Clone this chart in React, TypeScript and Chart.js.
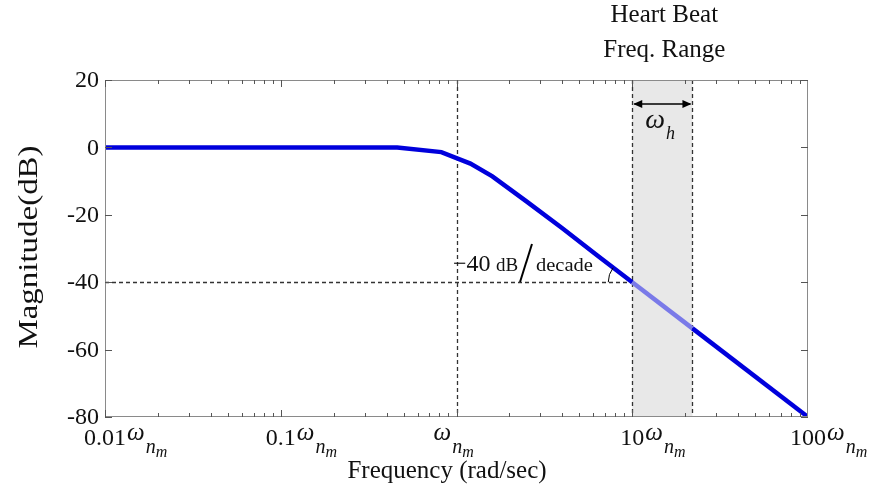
import { useEffect, useRef } from 'react';
import { Chart, registerables } from 'chart.js';

Chart.register(...registerables);

// ---- data ----
const FREQ = [0.01, 0.46, 0.82, 1.2, 1.6, 2.5, 4, 6.3, 10, 22, 100];
const MAG = [0, 0, -1.4, -4.8, -8.6, -16, -24, -32, -40, -53.7, -80];
const BAND = [10, 22];
const CORNER = 1;
const REF_DB = -40;
const X_TICKS = [0.01, 0.1, 1, 10, 100];
const X_TICK_PREFIX = ['0.01', '0.1', '', '10', '100'];
const Y_TICKS = [20, 0, -20, -40, -60, -80];
const Y_TICK_LABELS = ['20', '0', '-20', '-40', '-60', '-80'];

const SERIF = '"Liberation Serif", "Times New Roman", serif';
const BLUE = '#0000dc';
const BLUE_LIGHT = '#7a7ae8';

export default function App() {
  const ref = useRef<HTMLCanvasElement | null>(null);

  useEffect(() => {
    if (!ref.current) return;

    const plugin = {
      id: 'bodeDecor',
      beforeDatasetsDraw(chart: any) {
        const { ctx, chartArea: a, scales } = chart;
        const x = scales.x, y = scales.y;
        ctx.save();
        const bx0 = x.getPixelForValue(BAND[0]);
        const bx1 = x.getPixelForValue(BAND[1]);
        ctx.fillStyle = '#e8e8e8';
        ctx.fillRect(bx0, a.top, bx1 - bx0, a.bottom - a.top);

        ctx.setLineDash([4, 3]);
        ctx.strokeStyle = '#333';
        ctx.lineWidth = 1.3;
        for (const v of [CORNER, BAND[0], BAND[1]]) {
          const px = Math.round(x.getPixelForValue(v)) + 0.5;
          ctx.beginPath();
          ctx.moveTo(px, a.top);
          ctx.lineTo(px, a.bottom);
          ctx.stroke();
        }
        const py = Math.round(y.getPixelForValue(REF_DB)) + 0.5;
        ctx.beginPath();
        ctx.moveTo(a.left, py);
        ctx.lineTo(x.getPixelForValue(BAND[0]), py);
        ctx.stroke();
        ctx.restore();
      },
      afterDatasetsDraw(chart: any) {
        const { ctx, scales } = chart;
        const x = scales.x, y = scales.y;
        ctx.save();
        // angle arc
        const cx = x.getPixelForValue(BAND[0]);
        const cy = y.getPixelForValue(REF_DB);
        ctx.strokeStyle = '#000';
        ctx.lineWidth = 1;
        ctx.beginPath();
        ctx.arc(cx, cy, 24, Math.PI, Math.PI + 0.65);
        ctx.stroke();

        // -40 dB / decade annotation
        ctx.fillStyle = '#111';
        ctx.textAlign = 'left';
        ctx.textBaseline = 'alphabetic';
        ctx.font = `24px ${SERIF}`;
        ctx.fillText('\u221240', 453, 271);
        ctx.font = `19px ${SERIF}`;
        ctx.fillText('dB', 496, 271);
        ctx.save();
        ctx.translate(536, 271);
        ctx.scale(1.08, 1);
        ctx.fillText('decade', 0, 0);
        ctx.restore();
        ctx.lineWidth = 2;
        ctx.beginPath();
        ctx.moveTo(520, 282);
        ctx.lineTo(532, 244);
        ctx.stroke();
        ctx.restore();
      },
      afterDraw(chart: any) {
        const { ctx, chartArea: a, scales } = chart;
        const x = scales.x, y = scales.y;
        ctx.save();
        // box
        ctx.strokeStyle = '#8a8a8a';
        ctx.lineWidth = 1;
        ctx.strokeRect(a.left + 0.5, a.top + 0.5, a.right - a.left - 1, a.bottom - a.top - 1);

        // x ticks (inside, top and bottom)
        ctx.strokeStyle = '#555';
        for (let d = -2; d <= 1; d++) {
          for (let k = 1; k <= 9; k++) {
            const v = k * Math.pow(10, d);
            const px = Math.round(x.getPixelForValue(v)) + 0.5;
            const len = k === 1 ? 7 : 4;
            ctx.beginPath();
            ctx.moveTo(px, a.bottom);
            ctx.lineTo(px, a.bottom - len);
            ctx.moveTo(px, a.top);
            ctx.lineTo(px, a.top + len);
            ctx.stroke();
          }
        }
        // y ticks
        for (const v of Y_TICKS) {
          const py = Math.round(y.getPixelForValue(v)) + 0.5;
          ctx.beginPath();
          ctx.moveTo(a.left, py);
          ctx.lineTo(a.left + 7, py);
          ctx.moveTo(a.right, py);
          ctx.lineTo(a.right - 7, py);
          ctx.stroke();
        }

        ctx.fillStyle = '#111';
        // y tick labels
        ctx.font = `24px ${SERIF}`;
        ctx.textAlign = 'right';
        ctx.textBaseline = 'middle';
        Y_TICKS.forEach((v, i) => {
          ctx.fillText(Y_TICK_LABELS[i], a.left - 6, y.getPixelForValue(v) + 1);
        });

        // x tick labels with omega_{n_m}
        ctx.textBaseline = 'alphabetic';
        X_TICKS.forEach((v, i) => {
          const px = x.getPixelForValue(v);
          const pre = X_TICK_PREFIX[i];
          ctx.font = `24px ${SERIF}`;
          ctx.textAlign = 'center';
          const w = ctx.measureText(pre).width;
          let wx = px - 23;
          if (pre) {
            ctx.fillText(pre, px, 445);
            wx = px + w / 2 + 1;
          }
          ctx.textAlign = 'left';
          ctx.font = `italic 25px ${SERIF}`;
          ctx.fillText('\u03c9', wx, 440);
          const ww = ctx.measureText('\u03c9').width;
          ctx.font = `italic 20px ${SERIF}`;
          ctx.fillText('n', wx + ww + 1, 453);
          const nw = ctx.measureText('n').width;
          ctx.font = `italic 16px ${SERIF}`;
          ctx.fillText('m', wx + ww + nw + 1, 457);
        });

        // axis titles
        ctx.font = `25px ${SERIF}`;
        ctx.textAlign = 'center';
        ctx.fillText('Frequency (rad/sec)', 447, 478);
        ctx.save();
        ctx.translate(30, 247);
        ctx.rotate(-Math.PI / 2);
        ctx.scale(1.22, 1);
        ctx.textBaseline = 'middle';
        ctx.font = `27px ${SERIF}`;
        ctx.fillText('Magnitude(dB)', 0, 0);
        ctx.restore();

        // heart beat caption
        const bx0 = x.getPixelForValue(BAND[0]);
        const bx1 = x.getPixelForValue(BAND[1]);
        const bc = (bx0 + bx1) / 2 + 2;
        ctx.font = `25px ${SERIF}`;
        ctx.textAlign = 'center';
        ctx.fillText('Heart Beat', bc, 22);
        ctx.fillText('Freq. Range', bc, 57);

        // double arrow
        const ay = 104;
        ctx.strokeStyle = '#000';
        ctx.lineWidth = 1.5;
        ctx.beginPath();
        ctx.moveTo(bx0 + 2, ay);
        ctx.lineTo(bx1 - 2, ay);
        ctx.stroke();
        ctx.fillStyle = '#000';
        ctx.beginPath();
        ctx.moveTo(bx0 + 1, ay);
        ctx.lineTo(bx0 + 10, ay - 4);
        ctx.lineTo(bx0 + 10, ay + 4);
        ctx.closePath();
        ctx.fill();
        ctx.beginPath();
        ctx.moveTo(bx1 - 1, ay);
        ctx.lineTo(bx1 - 10, ay - 4);
        ctx.lineTo(bx1 - 10, ay + 4);
        ctx.closePath();
        ctx.fill();

        // omega_h
        ctx.fillStyle = '#111';
        ctx.textAlign = 'left';
        ctx.font = `italic 28px ${SERIF}`;
        ctx.fillText('\u03c9', bx0 + 13, 128);
        const ow = ctx.measureText('\u03c9').width;
        ctx.font = `italic 18px ${SERIF}`;
        ctx.fillText('h', bx0 + 13 + ow + 1, 139);
        ctx.restore();
      },
    };

    const chart = new Chart(ref.current, {
      type: 'scatter',
      data: {
        datasets: [
          {
            data: FREQ.map((f, i) => ({ x: f, y: MAG[i] })),
            showLine: true,
            borderColor: BLUE,
            borderWidth: 4.5,
            pointRadius: 0,
            tension: 0,
            segment: {
              borderColor: (ctx: any) =>
                ctx.p0.parsed.x >= BAND[0] && ctx.p1.parsed.x <= BAND[1] ? BLUE_LIGHT : BLUE,
            },
          } as any,
        ],
      },
      options: {
        animation: false,
        responsive: false,
        layout: { padding: { left: 105, right: 65, top: 80, bottom: 78 } },
        plugins: { legend: { display: false }, tooltip: { enabled: false } },
        scales: {
          x: { type: 'logarithmic', min: 0.01, max: 100, display: false },
          y: { type: 'linear', min: -80, max: 20, display: false },
        },
      },
      plugins: [plugin],
    });
    return () => chart.destroy();
  }, []);

  return (
    <div style={{ position: 'fixed', left: 0, top: 0, width: 873, height: 495, background: '#fff' }}>
      <canvas ref={ref} width={873} height={495} />
    </div>
  );
}
